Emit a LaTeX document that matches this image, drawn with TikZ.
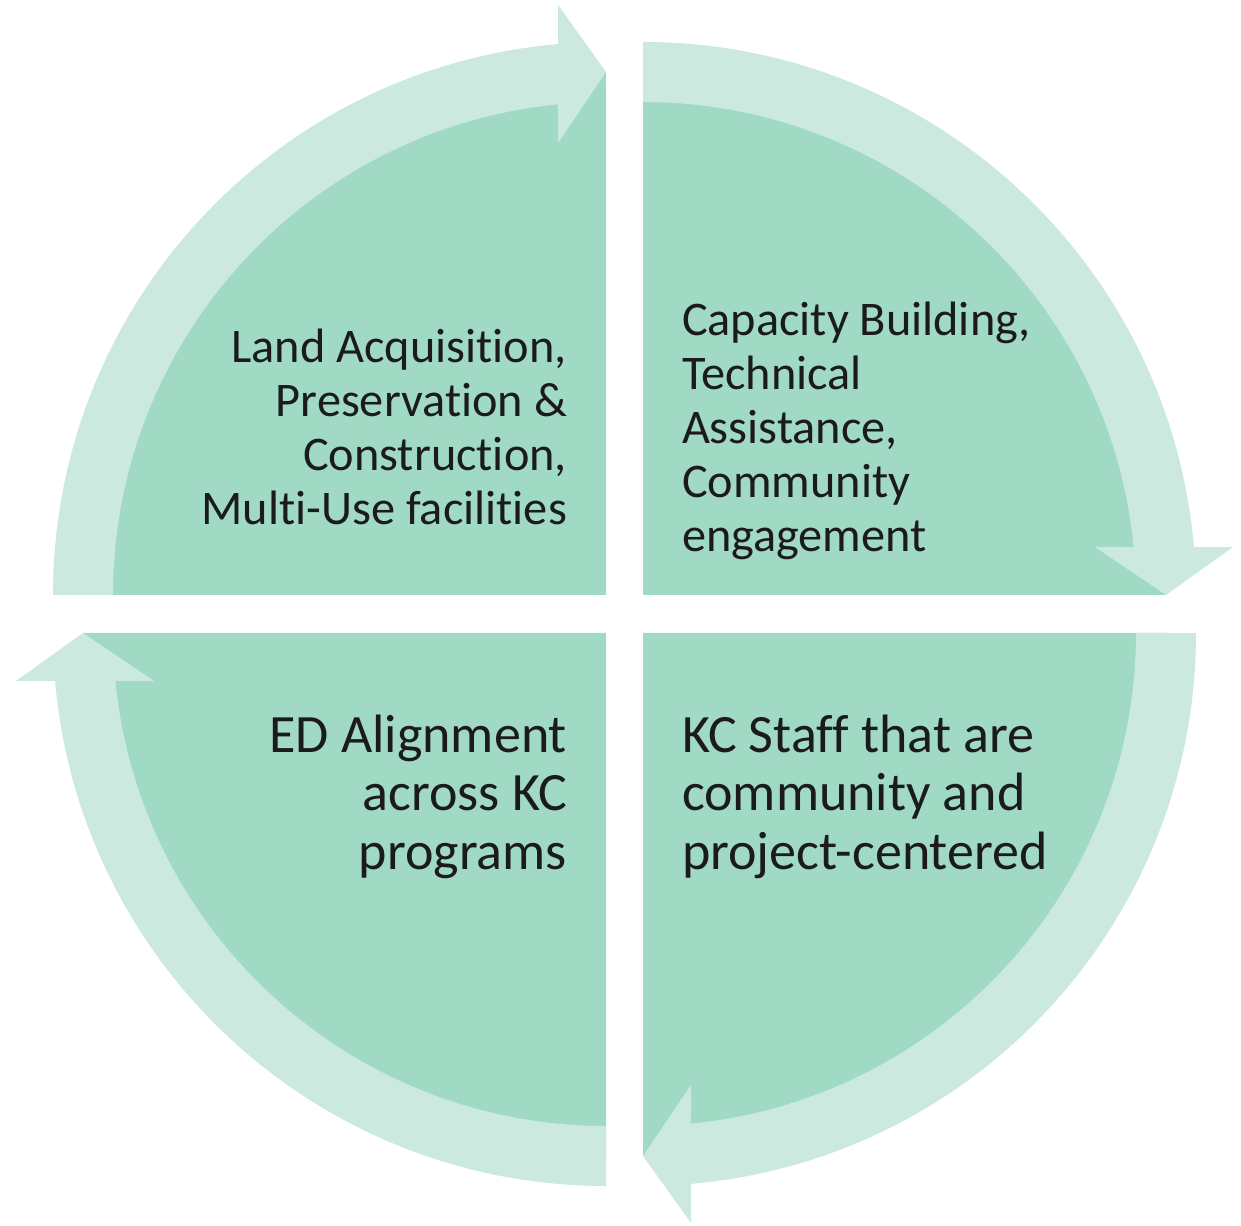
\documentclass[tikz,border=0pt]{standalone}
\usepackage{fontspec}
\setmainfont{Carlito}[Ligatures={NoCommon}]
\definecolor{sectorcol}{HTML}{A0DAC5}
\definecolor{bandcol}{HTML}{CBE9DE}
\definecolor{txtcol}{HTML}{1B1B1B}
\newcommand\quadpart[3]{%
\begin{scope}[shift={(#1,#2)}]
\fill[sectorcol] (0,0) -- (180+#3:523pt) arc[start angle=180+#3, end angle=90+#3, radius=523pt] -- cycle;
\fill[bandcol] (180+#3:553pt) arc[start angle=180+#3, end angle=94.979+#3, radius=553pt]
  -- (94.651+#3:591.95pt) -- (90+#3:523pt) -- (96.062+#3:454.54pt) -- (95.587+#3:493pt)
  arc[start angle=95.587+#3, end angle=180+#3, radius=493pt] -- cycle;
\end{scope}}
\begin{document}
\begin{tikzpicture}[x=1pt,y=1pt,
  toptext/.style={inner sep=0pt, outer sep=0pt, text=txtcol, font=\fontsize{48.3}{54}\selectfont},
  bottext/.style={inner sep=0pt, outer sep=0pt, text=txtcol, font=\fontsize{54}{58.4}\selectfont}]
\path[use as bounding box] (0,0) rectangle (1241,1225);
\quadpart{606}{630}{0}
\quadpart{643}{630}{-90}
\quadpart{643}{592}{-180}
\quadpart{606}{592}{-270}
\node[toptext, anchor=base east, align=right] (land) at (567,700)
  {Land Acquisition,\\Preservation \&\\Construction,\\Multi-Use facilities};
\node[toptext, anchor=base west, align=left] (capacity) at (682,673.3)
  {Capacity Building,\\Technical\\Assistance,\\Community\\engagement};
\node[bottext, anchor=base east, align=right] (align) at (567,355.7)
  {ED Alignment\\across KC\\programs};
\node[bottext, anchor=base west, align=left] (staff) at (682,355.7)
  {KC Staff that are\\community and\\project-centered};
\end{tikzpicture}
\end{document}
